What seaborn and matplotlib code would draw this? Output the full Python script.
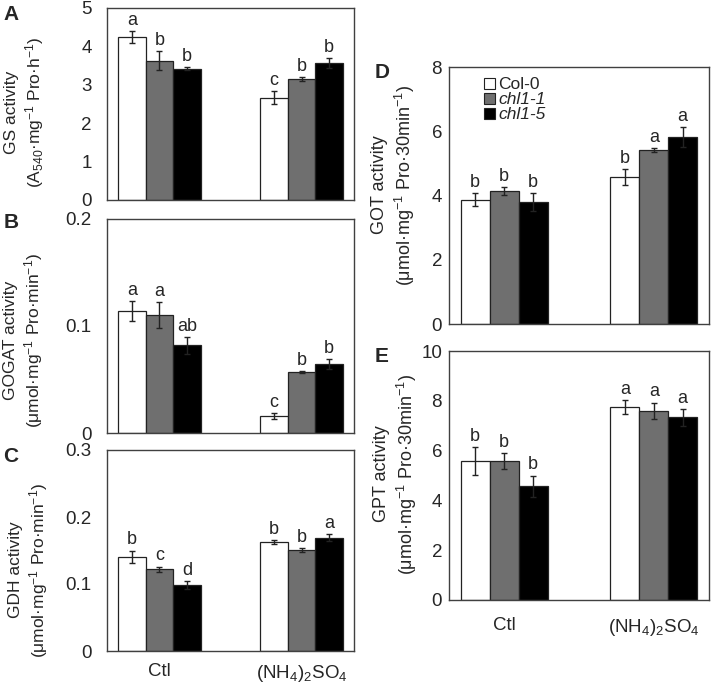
import numpy as np
import pandas as pd
import seaborn as sns
import matplotlib.pyplot as plt
from matplotlib.ticker import MultipleLocator, FuncFormatter
from matplotlib.patches import Patch

# Categories
treatments = ['Ctl', '(NH$_4$)$_2$SO$_4$']
genotypes = ['Col-0', 'chl1-1', 'chl1-5']
bar_colors = ['white', '#6f6f6f', 'black']

# Values: Ctl (Col-0, chl1-1, chl1-5), then (NH4)2SO4 (Col-0, chl1-1, chl1-5)
gs_mean = [4.24, 3.63, 3.42, 2.66, 3.15, 3.57]
gs_sem = [0.16, 0.25, 0.04, 0.17, 0.05, 0.13]
gs_letters = ['a', 'b', 'b', 'c', 'b', 'b']

gogat_mean = [0.114, 0.110, 0.082, 0.016, 0.057, 0.0645]
gogat_sem = [0.009, 0.012, 0.008, 0.003, 0.0006, 0.005]
gogat_letters = ['a', 'a', 'ab', 'c', 'b', 'b']

gdh_mean = [0.141, 0.122, 0.099, 0.162, 0.151, 0.169]
gdh_sem = [0.009, 0.004, 0.006, 0.003, 0.003, 0.005]
gdh_letters = ['b', 'c', 'd', 'b', 'b', 'a']

got_mean = [3.87, 4.14, 3.81, 4.57, 5.42, 5.82]
got_sem = [0.20, 0.13, 0.28, 0.24, 0.07, 0.30]
got_letters = ['b', 'b', 'b', 'b', 'a', 'a']

gpt_mean = [5.58, 5.59, 4.56, 7.74, 7.59, 7.33]
gpt_sem = [0.55, 0.31, 0.44, 0.28, 0.34, 0.35]
gpt_letters = ['b', 'b', 'b', 'a', 'a', 'a']

sns.set_style('white')
plt.rcParams['font.family'] = ['Liberation Sans', 'DejaVu Sans']
plt.rcParams['mathtext.fontset'] = 'custom'
plt.rcParams['mathtext.rm'] = 'Liberation Sans'
plt.rcParams['mathtext.it'] = 'Liberation Sans:italic'
plt.rcParams['mathtext.bf'] = 'Liberation Sans:bold'

W, H = 714, 685
fig = plt.figure(figsize=(W / 100, H / 100), dpi=100)


def px_axes(left, top, right, bottom):
    return fig.add_axes([left / W, 1 - bottom / H, (right - left) / W, (bottom - top) / H])


def draw_panel(ax, mean, sem, letters, ymax, major, minor, show_x, xpad, ypad):
    df = pd.DataFrame({'treatment': np.repeat(treatments, 3),
                       'genotype': genotypes * 2,
                       'value': mean})
    sns.barplot(data=df, x='treatment', y='value', hue='genotype',
                order=treatments, hue_order=genotypes, palette=bar_colors,
                saturation=1, width=0.58, edgecolor='#222222', linewidth=0.9,
                errorbar=None, legend=False, ax=ax)
    bar_conts = list(ax.containers)
    for i, cont in enumerate(bar_conts):
        for j, bar in enumerate(cont):
            k = j * 3 + i
            x = bar.get_x() + bar.get_width() / 2
            h = bar.get_height()
            ax.errorbar(x, h, yerr=sem[k], fmt='none', ecolor='#222222',
                        elinewidth=1, capsize=2.5, capthick=1)
            ax.annotate(letters[k], (x, h + sem[k]), xytext=(0, 1.5),
                        textcoords='offset points', ha='center', va='bottom',
                        fontsize=13)
    ax.set_ylim(0, ymax)
    ax.yaxis.set_major_locator(MultipleLocator(major))
    ax.yaxis.set_minor_locator(MultipleLocator(minor))
    ax.yaxis.set_major_formatter(FuncFormatter(lambda v, p: f'{v:g}'))
    ax.tick_params(axis='y', which='both', direction='in', length=3.5,
                   width=0.8, color='#404040', pad=ypad, labelsize=13.5)
    ax.tick_params(axis='x', length=0, pad=xpad, labelsize=13.5,
                   labelbottom=show_x)
    ax.set_xlabel('')
    ax.set_ylabel('')
    for s in ax.spines.values():
        s.set_color('#404040')
        s.set_linewidth(1)


axA = px_axes(107, 8, 354, 200)
axB = px_axes(107, 219, 354, 433)
axC = px_axes(107, 450, 354, 651)
axD = px_axes(449, 67, 709, 324)
axE = px_axes(449, 351, 709, 600)

draw_panel(axA, gs_mean, gs_sem, gs_letters, 5, 1, 0.5, False, 6, 11)
draw_panel(axB, gogat_mean, gogat_sem, gogat_letters, 0.2, 0.1, 0.05, False, 6, 11)
draw_panel(axC, gdh_mean, gdh_sem, gdh_letters, 0.3, 0.1, 0.05, True, 9, 11)
draw_panel(axD, got_mean, got_sem, got_letters, 8, 2, 1, False, 6, 5)
draw_panel(axE, gpt_mean, gpt_sem, gpt_letters, 10, 2, 1, True, 12, 5)

# y axis titles
ylabels = [
    (25, 112, 12.5, 'GS activity\n(A$_{540}$·mg$^{-1}$ Pro·h$^{-1}$)'),
    (24, 340, 12.5, 'GOGAT activity\n(μmol·mg$^{-1}$ Pro·min$^{-1}$)'),
    (29, 570, 12.5, 'GDH activity\n(μmol·mg$^{-1}$ Pro·min$^{-1}$)'),
    (394, 185, 13, 'GOT activity\n(μmol·mg$^{-1}$ Pro·30min$^{-1}$)'),
    (396, 474, 13, 'GPT activity\n(μmol·mg$^{-1}$ Pro·30min$^{-1}$)'),
]
for x, y, fs, txt in ylabels:
    fig.text(x / W, 1 - y / H, txt, rotation=90, ha='center', va='center',
             multialignment='center', fontsize=fs, linespacing=1.25)

# panel letters
for x, y, lab in [(11, 14, 'A'), (11, 222, 'B'), (11, 457, 'C'),
                  (382, 72, 'D'), (382, 357, 'E')]:
    fig.text(x / W, 1 - y / H, lab, ha='center', va='center',
             fontsize=15, fontweight='bold')

# legend
handles = [Patch(facecolor=c, edgecolor='#222222', linewidth=0.8) for c in bar_colors]
leg = axD.legend(handles, genotypes, loc='upper left', bbox_to_anchor=(0.135, 0.96),
                 frameon=False, fontsize=12.5, handlelength=0.6, handleheight=0.6,
                 handletextpad=0.2, labelspacing=0.0, borderpad=0, borderaxespad=0)
for t in leg.get_texts()[1:]:
    t.set_fontstyle('italic')

fig.savefig('out.png', dpi=100)
